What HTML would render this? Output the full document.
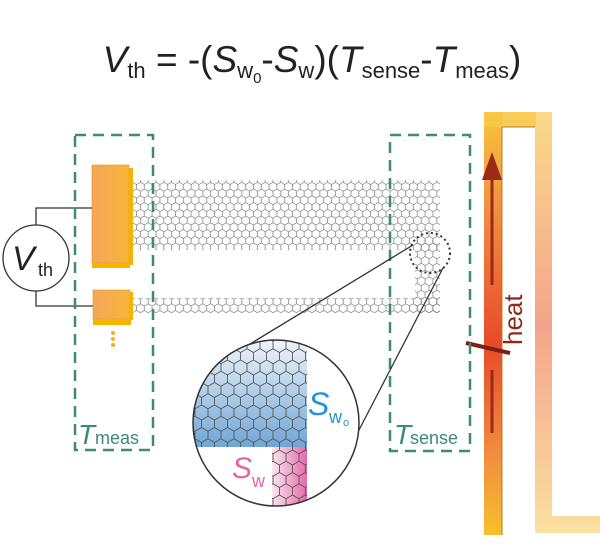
<!DOCTYPE html>
<html><head><style>
html,body{margin:0;padding:0;background:#fff;}
svg{display:block;}
</style></head><body>
<svg width="600" height="545" viewBox="0 0 600 545" xmlns="http://www.w3.org/2000/svg">
<defs>
  <pattern id="hex" width="7.8" height="13.5" patternUnits="userSpaceOnUse">
    <path d="M0,2.25 L3.9,0 L7.8,2.25 L7.8,6.75 L3.9,9 L0,6.75 Z M3.9,9 L3.9,13.5" fill="none" stroke="#777" stroke-width="0.7"/>
  </pattern>
  <pattern id="hexbig" width="13" height="22.5" patternUnits="userSpaceOnUse">
    <path d="M0,3.75 L6.5,0 L13,3.75 L13,11.25 L6.5,15 L0,11.25 Z M6.5,15 L6.5,22.5" fill="none" stroke="#555" stroke-width="0.9"/>
  </pattern>
  <linearGradient id="blue" x1="0" y1="0" x2="0" y2="1">
    <stop offset="0" stop-color="#f2f6fb"/><stop offset="1" stop-color="#6fa6d6"/>
  </linearGradient>
  <linearGradient id="pink" x1="0" y1="0" x2="1" y2="0">
    <stop offset="0" stop-color="#fbe6f0"/><stop offset="1" stop-color="#e56aa8"/>
  </linearGradient>
  <linearGradient id="pad" x1="0" y1="0" x2="1" y2="0">
    <stop offset="0" stop-color="#f5a65a"/><stop offset="1" stop-color="#f8b63a"/>
  </linearGradient>
  <linearGradient id="lbar" x1="0" y1="0" x2="0" y2="1">
    <stop offset="0" stop-color="#f9c63c"/><stop offset="0.25" stop-color="#f08a40"/><stop offset="0.55" stop-color="#e84a2a"/><stop offset="0.8" stop-color="#f08a40"/><stop offset="1" stop-color="#f8c02c"/>
  </linearGradient>
  <linearGradient id="rbar" x1="0" y1="0" x2="0" y2="1">
    <stop offset="0" stop-color="#fbd98a"/><stop offset="0.5" stop-color="#f4a48c"/><stop offset="1" stop-color="#fbe0a0"/>
  </linearGradient>
  <clipPath id="mag"><circle cx="276" cy="423" r="83"/></clipPath>
</defs>

<!-- equation -->
<text x="312" y="72" text-anchor="middle" font-family="Liberation Sans, sans-serif" font-size="37" fill="#222"><tspan font-style="italic">V</tspan><tspan font-size="22" dy="6">th</tspan><tspan dy="-6"> = -(</tspan><tspan font-style="italic">S</tspan><tspan font-size="22" dy="6">w</tspan><tspan font-size="15" dy="5">0</tspan><tspan dy="-11">-</tspan><tspan font-style="italic">S</tspan><tspan font-size="22" dy="6">w</tspan><tspan dy="-6">)(</tspan><tspan font-style="italic">T</tspan><tspan font-size="22" dy="6">sense</tspan><tspan dy="-6">-</tspan><tspan font-style="italic">T</tspan><tspan font-size="22" dy="6">meas</tspan><tspan dy="-6">)</tspan></text>

<!-- heater -->
<path d="M484,112 L552,112 L552,516 L600,516 L600,533 L535,533 L535,127 L502,127 L502,535 L484,535 Z" fill="url(#rbar)"/>
<rect x="484" y="112" width="18" height="423" fill="url(#lbar)"/>
<rect x="484" y="112" width="52" height="15" fill="#f9c84a" opacity="0.8"/>
<path d="M502,127 L535,127 M502,127 L502,535" stroke="#b08020" stroke-width="1" fill="none"/>
<!-- heat arrow -->
<line x1="492" y1="175" x2="492" y2="285" stroke="#9b2a18" stroke-width="3"/>
<line x1="492" y1="370" x2="492" y2="433" stroke="#9b2a18" stroke-width="3"/>
<polygon points="482,180 492,152 502,180" fill="#9b2a18"/>
<line x1="466" y1="343" x2="510" y2="353" stroke="#7a2010" stroke-width="4"/>
<text transform="translate(522,345) rotate(-90)" font-family="Liberation Sans, sans-serif" font-size="26" fill="#8b2a18">heat</text>

<!-- graphene ribbons -->
<rect x="128" y="180" width="312" height="70" fill="url(#hex)"/>
<rect x="128" y="298" width="312" height="15" fill="url(#hex)"/>
<rect x="415" y="240" width="25" height="73" fill="url(#hex)"/>

<!-- pads -->
<rect x="92" y="165" width="37" height="98" fill="url(#pad)" stroke="#d89a20" stroke-width="0.6"/>
<rect x="129" y="168" width="4" height="97" fill="#f5b400"/>
<rect x="92" y="263" width="38" height="5" fill="#f5b400"/>
<rect x="93" y="290" width="37" height="29" fill="url(#pad)" stroke="#d89a20" stroke-width="0.6"/>
<rect x="93" y="319" width="38" height="6" fill="#f5b400"/>
<rect x="130" y="292" width="3" height="28" fill="#f5b400"/>
<circle cx="113" cy="333" r="2" fill="#f0b020"/><circle cx="113" cy="339" r="2" fill="#f0b020"/><circle cx="113" cy="345" r="2" fill="#f0b020"/>

<!-- Vth circuit -->
<path d="M36,225 L36,208 L92,208 M36,291 L36,306 L93,306" stroke="#333" stroke-width="1.3" fill="none"/>
<circle cx="36" cy="258" r="33" fill="#fff" stroke="#333" stroke-width="1.3"/>
<text x="12" y="270" font-family="Liberation Sans, sans-serif" font-size="34" font-style="italic" fill="#222">V</text>
<text x="38" y="276" font-family="Liberation Sans, sans-serif" font-size="18" fill="#222">th</text>

<!-- dashed boxes -->
<rect x="75" y="135" width="78" height="315" fill="none" stroke="#3e8a78" stroke-width="2.5" stroke-dasharray="11,7"/>
<rect x="390" y="135" width="80" height="316" fill="none" stroke="#3e8a78" stroke-width="2.5" stroke-dasharray="11,7"/>
<text x="78" y="444" font-family="Liberation Sans, sans-serif" font-size="28" font-style="italic" fill="#3e8a78">T</text>
<text x="95" y="444" font-family="Liberation Sans, sans-serif" font-size="18" fill="#3e8a78">meas</text>
<text x="394" y="444" font-family="Liberation Sans, sans-serif" font-size="28" font-style="italic" fill="#3e8a78">T</text>
<text x="410" y="444" font-family="Liberation Sans, sans-serif" font-size="18" fill="#3e8a78">sense</text>

<!-- zoom lines -->
<circle cx="430" cy="253" r="20" fill="none" stroke="#333" stroke-width="2" stroke-dasharray="2,3"/>
<line x1="413" y1="245" x2="250" y2="344" stroke="#333" stroke-width="1.3"/>
<line x1="443" y1="268" x2="359" y2="430" stroke="#333" stroke-width="1.3"/>

<!-- magnified circle -->
<g clip-path="url(#mag)">
  <rect x="190" y="338" width="117" height="109" fill="url(#blue)"/>
  <rect x="272" y="447" width="35" height="65" fill="url(#pink)"/>
  <rect x="190" y="338" width="117" height="109" fill="url(#hexbig)"/>
  <rect x="272" y="447" width="35" height="65" fill="url(#hexbig)"/>
</g>
<circle cx="276" cy="423" r="83" fill="none" stroke="#333" stroke-width="1.5"/>
<text x="308" y="415" font-family="Liberation Sans, sans-serif" font-size="32" font-style="italic" fill="#1f95d6">S</text>
<text x="329" y="423" font-family="Liberation Sans, sans-serif" font-size="18" fill="#1f95d6">w</text>
<text x="343" y="426" font-family="Liberation Sans, sans-serif" font-size="11" fill="#1f95d6">o</text>
<text x="232" y="478" font-family="Liberation Sans, sans-serif" font-size="30" font-style="italic" fill="#e8629f">S</text>
<text x="252" y="487" font-family="Liberation Sans, sans-serif" font-size="18" fill="#e8629f">w</text>
</svg>
</body></html>
